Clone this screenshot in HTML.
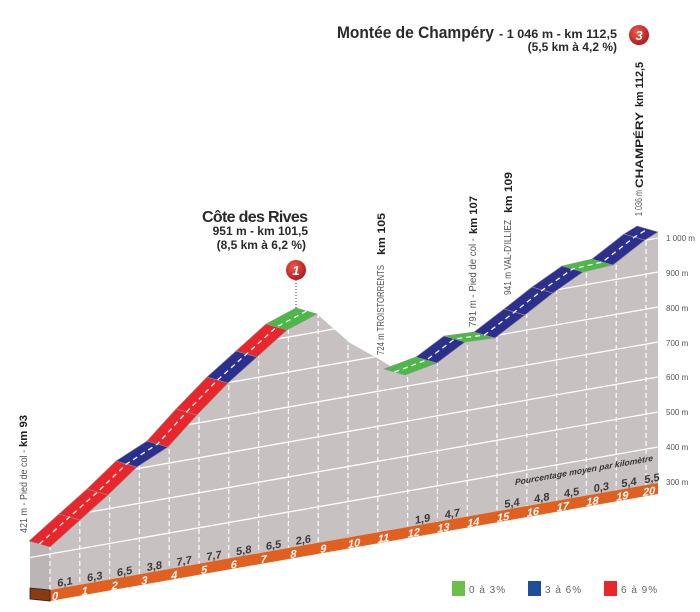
<!DOCTYPE html>
<html><head><meta charset="utf-8"><style>
html,body{margin:0;padding:0;background:#fff;}
svg{display:block;font-family:"Liberation Sans",sans-serif;}
</style></head><body>
<svg width="700" height="612" viewBox="0 0 700 612" xmlns="http://www.w3.org/2000/svg">
<defs>
<clipPath id="gc"><polygon points="30,541 50,547 80,520 108,495 137,467 168,447 197,415 228,383 257,357 287,330 317,314 350,343 377,358 405,375 437,363 465,342 495,338 525,315 553,293 583,272 613,265 645,240 658,232 658,484 50,590 30,588"/></clipPath>
<radialGradient id="rc" cx="40%" cy="35%" r="70%"><stop offset="0" stop-color="#f05a4a"/><stop offset="1" stop-color="#b0141a"/></radialGradient>
</defs>
<polygon points="30,541 50,547 80,520 108,495 137,467 168,447 197,415 228,383 257,357 287,330 317,314 350,343 377,358 405,375 437,363 465,342 495,338 525,315 553,293 583,272 613,265 645,240 658,232 658,484 50,590 30,588" fill="#c8c1c1"/>
<polygon points="30,541 50,547 50,590 30,588" fill="#bcb5b5"/>
<g clip-path="url(#gc)" stroke="#fff" stroke-width="1.3">
<line x1="30" y1="557.5" x2="658" y2="447"/>
<line x1="30" y1="522.5" x2="658" y2="412"/>
<line x1="30" y1="487.5" x2="658" y2="377"/>
<line x1="30" y1="452.5" x2="658" y2="342"/>
<line x1="30" y1="417.5" x2="658" y2="307"/>
<line x1="30" y1="382.5" x2="658" y2="272"/>
<line x1="30" y1="348.5" x2="658" y2="238"/>
<g stroke-dasharray="5 3" stroke-width="1.2">
<line x1="50" y1="590" x2="50" y2="200"/><line x1="79.8" y1="590" x2="79.8" y2="200"/><line x1="109.6" y1="590" x2="109.6" y2="200"/><line x1="139.4" y1="590" x2="139.4" y2="200"/><line x1="169.2" y1="590" x2="169.2" y2="200"/><line x1="199" y1="590" x2="199" y2="200"/><line x1="228.8" y1="590" x2="228.8" y2="200"/><line x1="258.6" y1="590" x2="258.6" y2="200"/><line x1="288.4" y1="590" x2="288.4" y2="200"/><line x1="318.2" y1="590" x2="318.2" y2="200"/><line x1="348" y1="590" x2="348" y2="200"/><line x1="377.8" y1="590" x2="377.8" y2="200"/><line x1="407.6" y1="590" x2="407.6" y2="200"/><line x1="437.4" y1="590" x2="437.4" y2="200"/><line x1="467.2" y1="590" x2="467.2" y2="200"/><line x1="497" y1="590" x2="497" y2="200"/><line x1="526.8" y1="590" x2="526.8" y2="200"/><line x1="556.6" y1="590" x2="556.6" y2="200"/><line x1="586.4" y1="590" x2="586.4" y2="200"/><line x1="616.2" y1="590" x2="616.2" y2="200"/><line x1="646" y1="590" x2="646" y2="200"/>
</g></g>
<g stroke="#9a9090" stroke-width="0.6">
<polygon points="50,547 80,520 59,514 29,541" fill="#e8262b"/>
<polygon points="80,520 108,495 87,489 59,514" fill="#e8262b"/>
<polygon points="108,495 137,467 116,461 87,489" fill="#e8262b"/>
<polygon points="137,467 168,447 147,441 116,461" fill="#2b2f8e"/>
<polygon points="168,447 197,415 176,409 147,441" fill="#e8262b"/>
<polygon points="197,415 228,383 207,377 176,409" fill="#e8262b"/>
<polygon points="228,383 257,357 236,351 207,377" fill="#2b2f8e"/>
<polygon points="257,357 287,330 266,324 236,351" fill="#e8262b"/>
<polygon points="287,330 317,314 296,308 266,324" fill="#4cb848"/>
<polygon points="405,375 437,363 416,357 384,369" fill="#4cb848"/>
<polygon points="437,363 465,342 444,336 416,357" fill="#2b2f8e"/>
<polygon points="465,342 495,338 474,332 444,336" fill="#4cb848"/>
<polygon points="495,338 525,315 504,309 474,332" fill="#2b2f8e"/>
<polygon points="525,315 553,293 532,287 504,309" fill="#2b2f8e"/>
<polygon points="553,293 583,272 562,266 532,287" fill="#2b2f8e"/>
<polygon points="583,272 613,265 592,259 562,266" fill="#4cb848"/>
<polygon points="613,265 645,240 624,234 592,259" fill="#2b2f8e"/>
<polygon points="645,240 658,232 637,226 624,234" fill="#2b2f8e"/>
</g>
<g fill="none" stroke="#fff" stroke-width="1.3" stroke-dasharray="5 4">
<polyline points="39.5,544 69.5,517 97.5,492 126.5,464 157.5,444 186.5,412 217.5,380 246.5,354 276.5,327 306.5,311"/>
<polyline points="394.5,372 426.5,360 454.5,339 484.5,335 514.5,312 542.5,290 572.5,269 602.5,262 634.5,237 647.5,229"/>
</g>
<polygon points="50,590 658,483 658,494 50,601" fill="#e2601f"/>
<polygon points="30,588 50,590 50,601 30,599" fill="#8a3a12" stroke="#222" stroke-width="0.8"/>
<g transform="skewY(-10)">
<g font-size="11" font-weight="bold" font-style="italic" fill="#fff">
<text x="52" y="609.5">0</text><text x="81.8" y="609.5">1</text><text x="111.6" y="609.5">2</text><text x="141.4" y="609.5">3</text><text x="171.2" y="609.5">4</text><text x="201" y="609.5">5</text><text x="230.8" y="609.5">6</text><text x="260.6" y="609.5">7</text><text x="290.4" y="609.5">8</text><text x="320.2" y="609.5">9</text><text x="348" y="609.5">10</text><text x="377.8" y="609.5">11</text><text x="407.6" y="609.5">12</text><text x="437.4" y="609.5">13</text><text x="467.2" y="609.5">14</text><text x="497" y="609.5">15</text><text x="526.8" y="609.5">16</text><text x="556.6" y="609.5">17</text><text x="586.4" y="609.5">18</text><text x="616.2" y="609.5">19</text><text x="643" y="609.5">20</text>
</g>
<g font-size="11" font-weight="bold" fill="#3a3a3a" text-anchor="middle">
<text x="65" y="597">6,1</text><text x="94.8" y="597">6,3</text><text x="124.6" y="597">6,5</text><text x="154.4" y="597">3,8</text><text x="184.2" y="597">7,7</text><text x="214" y="597">7,7</text><text x="243.8" y="597">5,8</text><text x="273.6" y="597">6,5</text><text x="303.4" y="597">2,6</text>
<text x="422.6" y="597">1,9</text><text x="452.4" y="597">4,7</text><text x="512" y="597">5,4</text><text x="541.8" y="597">4,8</text><text x="571.6" y="597">4,5</text><text x="601.4" y="597">0,3</text><text x="629" y="597">5,4</text><text x="652" y="597">5,5</text>
</g>
<text x="515" y="576" font-size="8.5" font-weight="bold" font-style="italic" fill="#333" textLength="138">Pourcentage moyen par kilomètre</text>
</g>
<g font-size="8" fill="#555">
<text x="666" y="241">1 000 m</text><text x="666" y="276">900 m</text><text x="666" y="311">800 m</text><text x="666" y="346">700 m</text><text x="666" y="380">600 m</text><text x="666" y="415">500 m</text><text x="666" y="450">400 m</text><text x="666" y="485">300 m</text>
</g>
<g fill="#555" font-size="10">
<text transform="translate(27,533) rotate(-90)" textLength="83" lengthAdjust="spacingAndGlyphs">421 m - Pied de col -</text>
<text transform="translate(384,355) rotate(-90)" textLength="90" lengthAdjust="spacingAndGlyphs">724 m TROISTORRENTS</text>
<text transform="translate(476,327) rotate(-90)" textLength="89" lengthAdjust="spacingAndGlyphs">791 m - Pied de col -</text>
<text transform="translate(511,295) rotate(-90)" textLength="75" lengthAdjust="spacingAndGlyphs">941 m VAL-D'ILLIEZ</text>
<text transform="translate(642,216) rotate(-90)" textLength="26" lengthAdjust="spacingAndGlyphs">1 036 m</text>
</g>
<g fill="#222" font-size="11" font-weight="bold">
<text transform="translate(27,447) rotate(-90)" textLength="32" lengthAdjust="spacingAndGlyphs">km 93</text>
<text transform="translate(385,255) rotate(-90)" textLength="42" lengthAdjust="spacingAndGlyphs">km 105</text>
<text transform="translate(477,234) rotate(-90)" textLength="38" lengthAdjust="spacingAndGlyphs">km 107</text>
<text transform="translate(512,213) rotate(-90)" textLength="41" lengthAdjust="spacingAndGlyphs">km 109</text>
<text transform="translate(643,188) rotate(-90)" textLength="76" lengthAdjust="spacingAndGlyphs">CHAMPÉRY</text>
<text transform="translate(643,107) rotate(-90)" textLength="45" lengthAdjust="spacingAndGlyphs">km 112,5</text>
</g>
<g fill="#2a2a2a" font-weight="bold">
<text x="337" y="38" font-size="16.5" textLength="157" lengthAdjust="spacingAndGlyphs">Montée de Champéry</text>
<text x="499" y="38" font-size="12" textLength="118" lengthAdjust="spacingAndGlyphs"> - 1 046 m - km 112,5</text>
<text x="617" y="51" font-size="12" text-anchor="end">(5,5 km à 4,2 %)</text>
<text x="308" y="222" font-size="16" text-anchor="end" textLength="106">Côte des Rives</text>
<text x="308" y="235" font-size="12" text-anchor="end">951 m - km 101,5</text>
<text x="306" y="249" font-size="12" text-anchor="end">(8,5 km à 6,2 %)</text>
</g>
<circle cx="639" cy="35" r="10" fill="url(#rc)"/>
<text x="639" y="40" font-size="13" font-weight="bold" font-style="italic" fill="#fff" text-anchor="middle">3</text>
<line x1="296" y1="280" x2="296" y2="308" stroke="#333" stroke-width="1" stroke-dasharray="1 2"/>
<circle cx="296" cy="270" r="10" fill="url(#rc)"/>
<text x="296" y="275" font-size="13" font-weight="bold" font-style="italic" fill="#fff" text-anchor="middle">1</text>
<rect x="452" y="581" width="13" height="15" fill="#6cc04a"/>
<rect x="528" y="581" width="13" height="15" fill="#1e4f9c"/>
<rect x="604" y="581" width="13" height="15" fill="#e8262b"/>
<g font-size="10" fill="#666" letter-spacing="1">
<text x="469" y="593">0 à 3%</text><text x="545" y="593">3 à 6%</text><text x="621" y="593">6 à 9%</text>
</g>
</svg>
</body></html>
